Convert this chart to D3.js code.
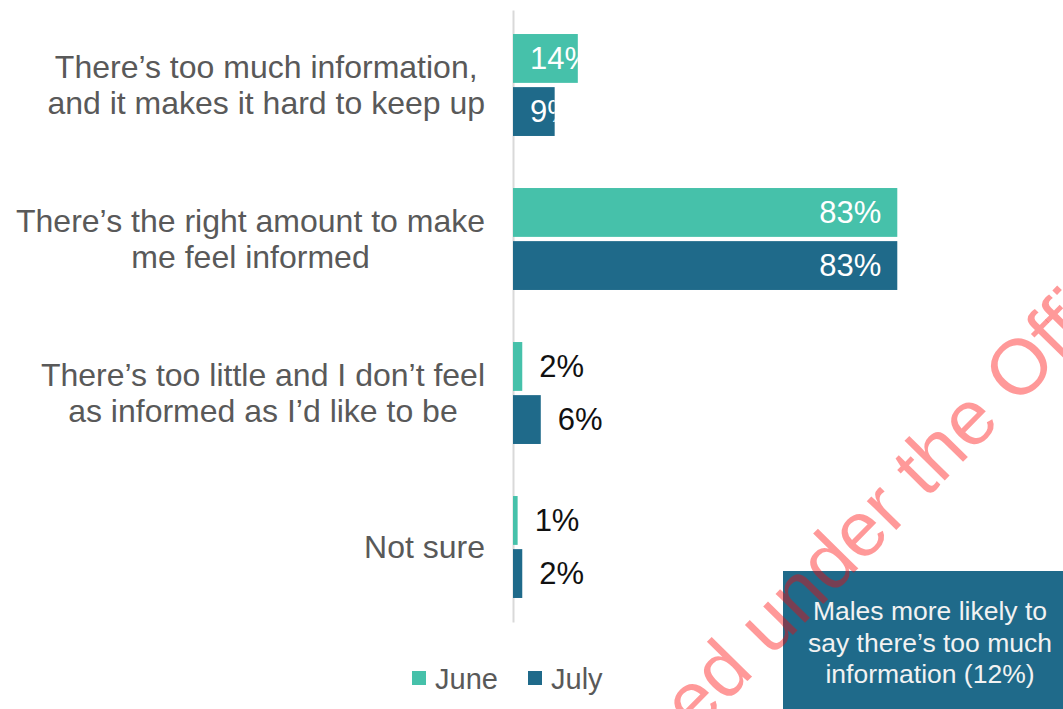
<!DOCTYPE html>
<html>
<head>
<meta charset="utf-8">
<script src="https://cdn.jsdelivr.net/npm/d3@7"></script>
<style>
  html, body { margin: 0; padding: 0; background: #ffffff; }
  svg { display: block; font-family: "Liberation Sans", Arial, sans-serif; }
</style>
</head>
<body>
<script>
// Survey responses on the amount of information received
const categoryLines = [
  ["There’s too much information,", "and it makes it hard to keep up"],
  ["There’s the right amount to make", "me feel informed"],
  ["There’s too little and I don’t feel", "as informed as I’d like to be"],
  ["Not sure"]
];
const seriesNames = ["June", "July"];
const juneValues = [14, 83, 2, 1];
const julyValues = [9, 83, 6, 2];
const seriesColors = ["#46C1AA", "#1F6A8A"];
const noteLines = ["Males more likely to", "say there’s too much", "information (12%)"];
const watermarkText = "Released under the Official Information Act";

const W = 1063, H = 709;
const svg = d3.select("body").append("svg").attr("width", W).attr("height", H);

const x = d3.scaleLinear().domain([0, 100]).range([513, 976]);
const y = d3.scaleBand().domain(d3.range(categoryLines.length))
  .range([10, 622]).paddingInner(0.338).paddingOuter(0.156);
const ySub = d3.scaleBand().domain(seriesNames)
  .range([0, y.bandwidth()]).paddingInner(0.08);
const color = d3.scaleOrdinal().domain(seriesNames).range(seriesColors);

const rows = [];
categoryLines.forEach((c, i) => {
  rows.push({ cat: i, series: "June", value: juneValues[i] });
  rows.push({ cat: i, series: "July", value: julyValues[i] });
});

// vertical category axis (line only)
const axis = svg.append("g").attr("transform", `translate(${x(0)},0)`)
  .call(d3.axisLeft(y).tickSize(0).tickFormat(""));
axis.select(".domain").attr("stroke", "#d9d9d9").attr("stroke-width", 2);

// category labels: each block centred on its own longest line, block right-aligned
const labelRight = 485;
const lineGap = 36;
const catG = svg.append("g").attr("font-size", 32).attr("fill", "#595959");
categoryLines.forEach((lines, i) => {
  const cy = y(i) + y.bandwidth() / 2;
  const t = catG.append("text").attr("text-anchor", "middle");
  const spans = lines.map((ln, k) => t.append("tspan")
    .attr("y", cy + (k - (lines.length - 1) / 2) * lineGap)
    .attr("dy", "0.35em")
    .text(ln));
  const maxW = d3.max(spans, s => s.node().getComputedTextLength());
  spans.forEach(s => s.attr("x", labelRight - maxW / 2));
});

// bars
const defs = svg.append("defs");
const barG = svg.append("g");
rows.forEach((d, idx) => {
  const by = y(d.cat) + ySub(d.series);
  const bw = x(d.value) - x(0);
  barG.append("rect")
    .attr("x", x(0)).attr("y", by)
    .attr("width", bw).attr("height", ySub.bandwidth())
    .attr("fill", color(d.series));
  d.by = by; d.bw = bw; d.idx = idx;
});

// value labels: inside (white, clipped to bar) for large bars, outside (black) for small ones
const valG = svg.append("g").attr("font-size", 31);
rows.forEach(d => {
  const cy = d.by + ySub.bandwidth() / 2;
  const label = d.value + "%";
  if (d.value >= 9) {
    const clipId = "clip" + d.idx;
    defs.append("clipPath").attr("id", clipId).append("rect")
      .attr("x", x(0)).attr("y", d.by).attr("width", d.bw).attr("height", ySub.bandwidth());
    const t = valG.append("text").attr("clip-path", `url(#${clipId})`)
      .attr("y", cy).attr("dy", "0.35em").attr("fill", "#ffffff").text(label);
    const tw = t.node().getComputedTextLength();
    t.attr("x", Math.max(x(0) + 17, x(d.value) - 16 - tw));
  } else {
    valG.append("text").attr("x", x(d.value) + 17).attr("y", cy).attr("dy", "0.35em")
      .attr("fill", "#111111").text(label);
  }
});

// legend
const legend = svg.append("g").attr("font-size", 29).attr("fill", "#595959");
const legendX = [412, 528];
seriesNames.forEach((s, i) => {
  legend.append("rect").attr("x", legendX[i]).attr("y", 671)
    .attr("width", 14).attr("height", 14).attr("fill", color(s));
  legend.append("text").attr("x", legendX[i] + 23).attr("y", 689).text(s);
});

// note box
const note = svg.append("g");
note.append("rect").attr("x", 783).attr("y", 571).attr("width", 300).attr("height", 160)
  .attr("fill", seriesColors[1]);
note.append("text").attr("font-size", 26.5).attr("fill", "#f2f2f2").attr("text-anchor", "middle")
  .selectAll("tspan").data(noteLines).join("tspan")
  .attr("x", 930).attr("y", (d, i) => 620 + i * 31.5).text(d => d);

// diagonal watermark
const wm = svg.append("g").attr("transform", "translate(786,642) rotate(-45.5)");
const wmText = wm.append("text").attr("font-size", 78)
  .attr("fill", "#ff0000").attr("fill-opacity", 0.4).text(watermarkText);
const uIndex = watermarkText.indexOf("under");
const n = wmText.node();
const offset = n.getSubStringLength(0, uIndex) + n.getSubStringLength(uIndex, 1) / 2;
wmText.attr("x", -offset);
</script>
</body>
</html>
